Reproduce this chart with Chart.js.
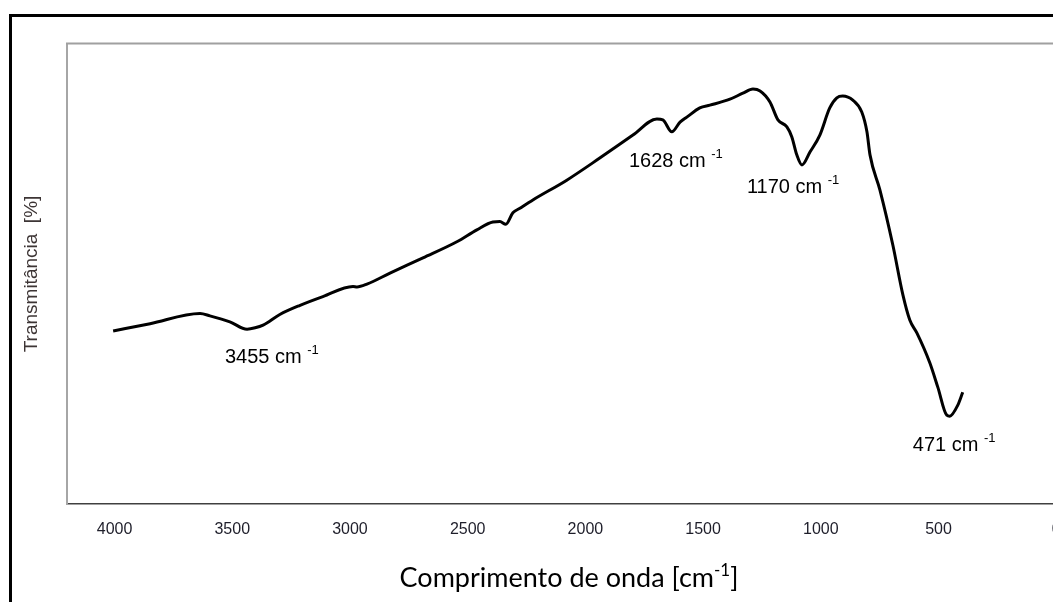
<!DOCTYPE html><html lang="pt"><head><meta charset="utf-8">
<title>Espectro de infravermelho</title>
<script src="https://cdn.jsdelivr.net/npm/chart.js@4"></script>
<style>
html, body { margin: 0; padding: 0; overflow: hidden; background: #fff; }
#frame { position: absolute; left: 9px; top: 14px; width: 1200px; height: 700px; border: 3px solid #000; box-sizing: border-box; }
#wrap { position: absolute; left: 0; top: 0; width: 1120px; height: 602px; }
</style>
</head><body>

<div id=frame></div>
<div id=wrap><canvas id=chart width=1120 height=602></canvas></div>

<script>
// espectro (numero de onda em cm-1, transmitancia em unidades arbitrarias 0-100)
const wavenumbers = [4006, 3849, 3637, 3595, 3510, 3437, 3403, 3369, 3298, 3212,
  3115, 2987, 2970, 2928, 2830, 2690, 2546, 2461, 2393, 2363,
  2338, 2308, 2278, 2223, 2079, 1939, 1798, 1696, 1671, 1633,
  1598, 1569, 1514, 1471, 1386, 1331, 1288, 1258, 1216, 1182,
  1144, 1123, 1102, 1080, 1046, 1004, 962, 932, 907, 864,
  826, 804, 791, 749, 694, 651, 622, 592, 537, 503,
  465, 452, 418, 397];
const transmittance = [37.6, 39.2, 41.4, 40.9, 39.6, 38.0, 38.3, 38.9, 41.2, 43.2,
  45.1, 47.3, 47.2, 47.8, 50.2, 53.5, 57.0, 59.6, 61.3, 61.4,
  60.8, 63.3, 64.3, 66.1, 70.4, 75.2, 80.2, 83.7, 83.5, 80.9,
  83.0, 84.1, 86.1, 86.7, 88.0, 89.3, 90.2, 89.8, 87.4, 83.5,
  82.0, 79.8, 75.9, 73.7, 76.5, 80.2, 86.1, 88.3, 88.7, 87.8,
  85.2, 80.9, 75.9, 68.3, 56.3, 45.4, 40.0, 37.2, 30.7, 25.4,
  19.3, 19.1, 21.5, 24.3];

const xTicks = [4000, 3500, 3000, 2500, 2000, 1500, 1000, 500, 0];

// rotulos das bandas: texto, posicao (canto esquerdo, linha de base) em coordenadas dos dados
const bandLabels = ["3455 cm", "1628 cm", "1170 cm", "471 cm"];
const bandX = [3531, 1815, 1314, 609];
const bandY = [30.6, 73.3, 67.6, 11.5];

const bandPlugin = {
  id: "bands",
  afterDatasetsDraw(c) {
    const { ctx, scales: { x, y } } = c;
    ctx.save();
    ctx.fillStyle = "#000";
    ctx.textBaseline = "alphabetic";
    ctx.textAlign = "left";
    bandLabels.forEach((t, i) => {
      const px = x.getPixelForValue(bandX[i]);
      const py = y.getPixelForValue(bandY[i]);
      ctx.font = "20px 'Liberation Sans', Arial, sans-serif";
      ctx.fillText(t + " ", px, py);
      const w = ctx.measureText(t + " ").width;
      ctx.font = "13px 'Liberation Sans', Arial, sans-serif";
      ctx.fillText("-1", px + w, py - 9);
    });
    ctx.restore();
  }
};

const framePlugin = {
  id: "frameTop",
  beforeDatasetsDraw(c) {
    const { ctx, chartArea: a } = c;
    ctx.save();
    ctx.strokeStyle = "#a0a0a0";
    ctx.lineWidth = 2;
    ctx.beginPath();
    ctx.moveTo(a.left - 1, a.top - 0.5);
    ctx.lineTo(a.right, a.top - 0.5);
    ctx.stroke();
    ctx.restore();
  }
};

// titulo do eixo x com expoente
const xTitlePlugin = {
  id: "xTitle",
  afterDraw(c) {
    const { ctx } = c;
    const big = "27px Lato, 'Open Sans', sans-serif";
    const small = "17px Lato, 'Open Sans', sans-serif";
    const a = "Comprimento de onda [cm", s = "-1", b = "]";
    ctx.save();
    ctx.fillStyle = "#000";
    ctx.textBaseline = "alphabetic";
    ctx.font = big;
    const wa = ctx.measureText(a).width, wb = ctx.measureText(b).width;
    ctx.font = small;
    const ws = ctx.measureText(s).width;
    let x0 = 569 - (wa + ws + wb) / 2;
    const base = 587;
    ctx.font = big;
    ctx.fillText(a, x0, base);
    ctx.font = small;
    ctx.fillText(s, x0 + wa, base - 11);
    ctx.font = big;
    ctx.fillText(b, x0 + wa + ws, base);
    ctx.restore();
  }
};

const ctx = document.getElementById("chart").getContext("2d");
const chart = new Chart(ctx, {
  type: "line",
  data: {
    datasets: [{
      data: wavenumbers.map((w, i) => ({ x: w, y: transmittance[i] })),
      borderColor: "#000",
      borderWidth: 3,
      pointRadius: 0,
      cubicInterpolationMode: "monotone",
      fill: false,
    }]
  },
  options: {
    responsive: false,
    animation: false,
    layout: { padding: { top: 44, right: 20, left: 0, bottom: 0 } },
    plugins: { legend: { display: false }, tooltip: { enabled: false } },
    scales: {
      x: {
        type: "linear",
        reverse: true,
        min: -186,
        max: 4202,
        afterBuildTicks: (s) => { s.ticks = xTicks.map(v => ({ value: v })); },
        afterFit: (s) => { s.height = 98; },
        grid: { display: false, drawTicks: false, tickLength: 0 },
        border: { display: true, color: "#404040", width: 1.5 },
        ticks: {
          padding: 16,
          color: "#1e1e2a",
          autoSkip: false,
          maxRotation: 0,
          callback: (v) => String(v),
          font: { family: "'Liberation Sans', Arial, sans-serif", size: 16 },
        },
      },
      y: {
        min: 0,
        max: 100,
        afterFit: (s) => { s.width = 67; },
        grid: { display: false },
        border: { display: true, color: "#a6a6a6", width: 2 },
        ticks: { display: false },
        title: {
          display: true,
          text: "Transmitância  [%]",
          color: "#3d3535",
          font: { family: "'Liberation Sans', Arial, sans-serif", size: 19 },
          padding: { top: 20, bottom: 0 },
        },
      },
    },
  },
  plugins: [framePlugin, bandPlugin, xTitlePlugin],
});
</script>

</body>
</html>
